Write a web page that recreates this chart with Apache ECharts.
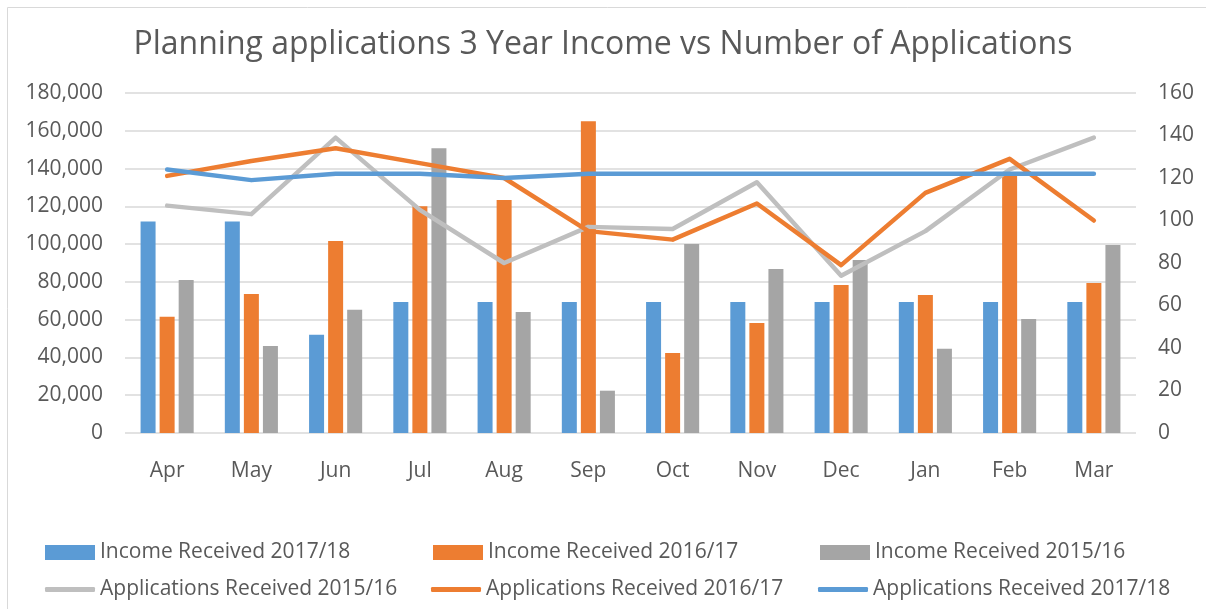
<!DOCTYPE html>
<html>
<head>
<meta charset="utf-8">
<script src="https://cdn.jsdelivr.net/npm/echarts@6/dist/echarts.min.js"></script>
<style>
  html, body { margin: 0; padding: 0; background: #fff; }
  #chart { width: 1206px; height: 609px; }
</style>
</head>
<body>
<div id="chart"></div>
<script>
// months of the financial year
var months = ['Apr', 'May', 'Jun', 'Jul', 'Aug', 'Sep', 'Oct', 'Nov', 'Dec', 'Jan', 'Feb', 'Mar'];

// income (left axis)
var income1718 = [112000, 112000, 52000, 69400, 69400, 69400, 69400, 69400, 69400, 69400, 69400, 69400];
var income1617 = [61500, 73600, 101600, 120100, 123300, 165000, 42400, 58300, 78400, 73100, 137000, 79400];
var income1516 = [81000, 46100, 65200, 150800, 64100, 22400, 100000, 86800, 91600, 44600, 60400, 99500];

// number of applications (right axis)
var apps1516 = [107, 103, 139, 105, 80, 97, 96, 118, 74, 95, 124, 139];
var apps1617 = [121, 128, 134, 127, 120, 95, 91, 108, 79, 113, 129, 100];
var apps1718 = [124, 119, 122, 122, 120, 122, 122, 122, 122, 122, 122, 122];

var blue = '#5B9BD5', orange = '#ED7D31', grey = '#A5A5A5', lightGrey = '#BFBFBF';
var font = 'Open Sans';
var txt = '#595959';

// one legend per entry so each sits where the original put it
function legendAt(name, left, top, icon, h) {
  return {
    data: [{ name: name, icon: icon }],
    left: left, top: top, padding: 0,
    itemWidth: 50, itemHeight: h,
    textStyle: { fontFamily: font, fontSize: 21, color: txt }
  };
}

var chart = echarts.init(document.getElementById('chart'));
chart.setOption({
  animation: false,
  title: {
    text: 'Planning applications 3 Year Income vs Number of Applications',
    left: 'center', top: 24,
    textStyle: { fontFamily: font, fontSize: 32, fontWeight: 'normal', color: txt }
  },
  graphic: [{
    type: 'rect', silent: true,
    shape: { x: 7.5, y: 7.5, width: 1300, height: 700 },
    style: { fill: 'none', stroke: '#D9D9D9', lineWidth: 1 }
  }],
  legend: [
    legendAt('Income Received 2017/18', 45, 542, 'rect', 15),
    legendAt('Income Received 2016/17', 433, 542, 'rect', 15),
    legendAt('Income Received 2015/16', 820, 542, 'rect', 15),
    legendAt('Applications Received 2015/16', 45, 579, 'roundRect', 5),
    legendAt('Applications Received 2016/17', 431, 579, 'roundRect', 5),
    legendAt('Applications Received 2017/18', 818, 579, 'roundRect', 5)
  ],
  grid: { left: 125, right: 70, top: 93, bottom: 176 },
  xAxis: {
    type: 'category',
    data: months,
    axisLine: { show: false },
    axisTick: { show: false },
    axisLabel: { fontFamily: font, fontSize: 21, color: txt, margin: 28 }
  },
  yAxis: [{
    type: 'value', min: 0, max: 180000, interval: 20000,
    axisLabel: {
      fontFamily: font, fontSize: 21, color: txt, margin: 22,
      formatter: function (v) { return v.toLocaleString('en-GB'); }
    },
    splitLine: { lineStyle: { color: '#D9D9D9', width: 1.5 } }
  }, {
    type: 'value', min: 0, max: 160, interval: 20,
    axisLabel: { fontFamily: font, fontSize: 21, color: txt, margin: 22 },
    splitLine: { show: false }
  }],
  series: [
    { name: 'Income Received 2017/18', type: 'bar', data: income1718, barWidth: 15, barGap: '27%', itemStyle: { color: blue } },
    { name: 'Income Received 2016/17', type: 'bar', data: income1617, barWidth: 15, barGap: '27%', itemStyle: { color: orange } },
    { name: 'Income Received 2015/16', type: 'bar', data: income1516, barWidth: 15, barGap: '27%', itemStyle: { color: grey } },
    { name: 'Applications Received 2015/16', type: 'line', yAxisIndex: 1, data: apps1516, symbol: 'none',
      itemStyle: { color: lightGrey }, lineStyle: { color: lightGrey, width: 4.5, cap: 'round', join: 'round' } },
    { name: 'Applications Received 2016/17', type: 'line', yAxisIndex: 1, data: apps1617, symbol: 'none',
      itemStyle: { color: orange }, lineStyle: { color: orange, width: 4.5, cap: 'round', join: 'round' } },
    { name: 'Applications Received 2017/18', type: 'line', yAxisIndex: 1, data: apps1718, symbol: 'none',
      itemStyle: { color: blue }, lineStyle: { color: blue, width: 4.5, cap: 'round', join: 'round' } }
  ]
});
</script>
</body>
</html>
